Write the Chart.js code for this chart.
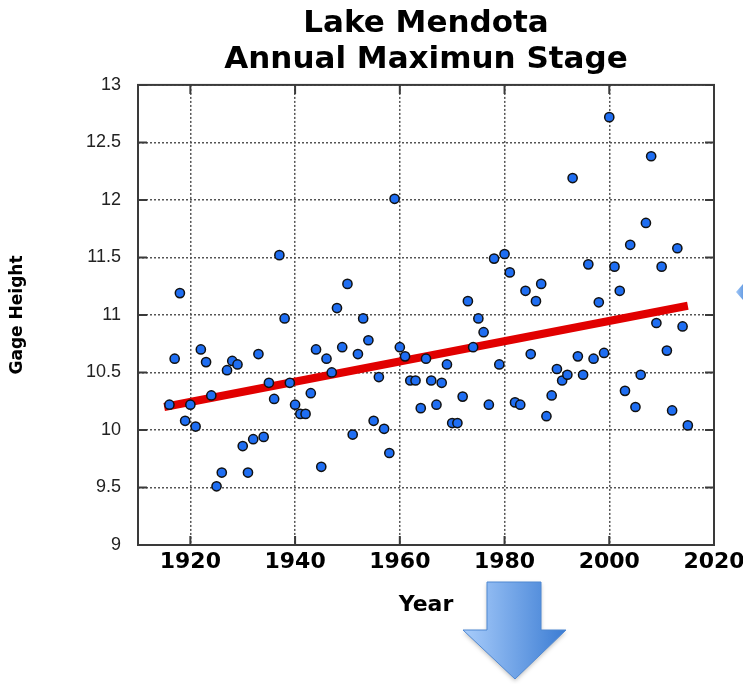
<!DOCTYPE html>
<html>
<head>
<meta charset="utf-8">
<title>Lake Mendota Annual Maximun Stage</title>
<script src="https://cdn.jsdelivr.net/npm/chart.js@4/dist/chart.umd.min.js"></script>
<style>
  html, body { margin: 0; padding: 0; background: #fff; }
  #wrap { width: 743px; height: 684px; }
</style>
</head>
<body>
<div id="wrap"><canvas id="stageChart" width="743" height="684"></canvas></div>
<script>
// data
const years = [
  1916, 1917, 1918, 1919, 1920, 1921, 1922, 1923, 1924, 1925,
  1926, 1927, 1928, 1929, 1930, 1931, 1932, 1933, 1934, 1935,
  1936, 1937, 1938, 1939, 1940, 1941, 1942, 1943, 1944, 1945,
  1946, 1947, 1948, 1949, 1950, 1951, 1952, 1953, 1954, 1955,
  1956, 1957, 1958, 1959, 1960, 1961, 1962, 1963, 1964, 1965,
  1966, 1967, 1968, 1969, 1970, 1971, 1972, 1973, 1974, 1975,
  1976, 1977, 1978, 1979, 1980, 1981, 1982, 1983, 1984, 1985,
  1986, 1987, 1988, 1989, 1990, 1991, 1992, 1993, 1994, 1995,
  1996, 1997, 1998, 1999, 2000, 2001, 2002, 2003, 2004, 2005,
  2006, 2007, 2008, 2009, 2010, 2011, 2012, 2013, 2014, 2015
];
const gageHeight = [
  10.22, 10.62, 11.19, 10.08, 10.22, 10.03, 10.70, 10.59, 10.30, 9.51,
  9.63, 10.52, 10.60, 10.57, 9.86, 9.63, 9.92, 10.66, 9.94, 10.41,
  10.27, 11.52, 10.97, 10.41, 10.22, 10.14, 10.14, 10.32, 10.70, 9.68,
  10.62, 10.50, 11.06, 10.72, 11.27, 9.96, 10.66, 10.97, 10.78, 10.08,
  10.46, 10.01, 9.80, 12.01, 10.72, 10.64, 10.43, 10.43, 10.19, 10.62,
  10.43, 10.22, 10.41, 10.57, 10.06, 10.06, 10.29, 11.12, 10.72, 10.97,
  10.85, 10.22, 11.49, 10.57, 11.53, 11.37, 10.24, 10.22, 11.21, 10.66,
  11.12, 11.27, 10.12, 10.30, 10.53, 10.43, 10.48, 12.19, 10.64, 10.48,
  11.44, 10.62, 11.11, 10.67, 12.72, 11.42, 11.21, 10.34, 11.61, 10.20,
  10.48, 11.80, 12.38, 10.93, 11.42, 10.69, 10.17, 11.58, 10.90, 10.04
];
// trend line end points
const trendYears = [1915, 2015];
const trendValues = [10.20, 11.08];

const xTicks = [1920, 1940, 1960, 1980, 2000, 2020];
const yTicks = [9, 9.5, 10, 10.5, 11, 11.5, 12, 12.5, 13];

const points = years.map((yr, i) => ({ x: yr, y: gageHeight[i] }));
const trend = trendYears.map((yr, i) => ({ x: yr, y: trendValues[i] }));

// frame on all sides + short inward tick marks
const framePlugin = {
  id: 'frame',
  afterDatasetsDraw(chart) {
    const { ctx, chartArea: a, scales } = chart;
    ctx.save();
    ctx.strokeStyle = '#3a3a3a';
    ctx.lineWidth = 2;
    ctx.strokeRect(a.left, a.top, a.right - a.left, a.bottom - a.top);
    ctx.beginPath();
    xTicks.forEach(v => {
      const px = scales.x.getPixelForValue(v);
      ctx.moveTo(px, a.top); ctx.lineTo(px, a.top + 9);
      ctx.moveTo(px, a.bottom); ctx.lineTo(px, a.bottom - 9);
    });
    yTicks.forEach(v => {
      const py = scales.y.getPixelForValue(v);
      ctx.moveTo(a.left, py); ctx.lineTo(a.left + 9, py);
      ctx.moveTo(a.right, py); ctx.lineTo(a.right - 9, py);
    });
    ctx.stroke();
    ctx.restore();
  },
  afterDraw(chart) {
    const ctx = chart.ctx;
    ctx.save();
    // the blue down arrow under the axis
    let g = ctx.createLinearGradient(463, 0, 566, 0);
    g.addColorStop(0, '#a9cdfb');
    g.addColorStop(1, '#3b7cd3');
    ctx.shadowColor = 'rgba(0,0,0,0.25)';
    ctx.shadowBlur = 4;
    ctx.shadowOffsetY = 2;
    ctx.fillStyle = g;
    ctx.strokeStyle = '#4f88d2';
    ctx.lineWidth = 1;
    ctx.beginPath();
    ctx.moveTo(487, 582);
    ctx.lineTo(541, 582);
    ctx.lineTo(541, 630);
    ctx.lineTo(566, 630);
    ctx.lineTo(515, 679);
    ctx.lineTo(463, 630);
    ctx.lineTo(487, 630);
    ctx.closePath();
    ctx.fill();
    ctx.shadowColor = 'transparent';
    ctx.stroke();
    // tip of an arrow cut off at the right edge
    g = ctx.createLinearGradient(736, 0, 743, 0);
    g.addColorStop(0, '#9fc6f7');
    g.addColorStop(1, '#6a9fe4');
    ctx.fillStyle = g;
    ctx.beginPath();
    ctx.moveTo(736, 292);
    ctx.lineTo(743, 284);
    ctx.lineTo(743, 300);
    ctx.closePath();
    ctx.fill();
    ctx.restore();
  }
};

const ctx = document.getElementById('stageChart').getContext('2d');
const stageChart = new Chart(ctx, {
  type: 'scatter',
  data: {
    datasets: [{
      label: 'Annual maximum',
      data: points,
      backgroundColor: '#1f6ef2',
      borderColor: '#111',
      borderWidth: 1.5,
      pointRadius: 4.6
    }, {
      type: 'line',
      label: 'Trend',
      data: trend,
      borderColor: '#e10000',
      borderWidth: 8,
      pointRadius: 0,
      fill: false
    }]
  },
  options: {
    responsive: false,
    animation: false,
    layout: { padding: { top: 0, right: 29, bottom: 0, left: 0 } },
    plugins: {
      legend: { display: false },
      tooltip: { enabled: false },
      title: {
        display: true,
        fullSize: false,
        text: ['Lake Mendota', 'Annual Maximun Stage'],
        color: '#000',
        font: { family: 'DejaVu Sans', size: 31, weight: 'bold', lineHeight: 1.16 },
        padding: { top: 6, bottom: 7 }
      }
    },
    scales: {
      x: {
        type: 'linear',
        min: 1910,
        max: 2020,
        afterBuildTicks: s => { s.ticks = xTicks.map(v => ({ value: v })); },
        afterFit: s => { s.height = 139; s.paddingLeft = 0; s.paddingRight = 0; },
        grid: {
          drawTicks: false,
          color: '#555',
          lineWidth: 1.5
        },
        border: { display: false, dash: [2, 2] },
        ticks: {
          padding: 4,
          color: '#000',
          font: { family: 'DejaVu Sans', size: 22, weight: 'bold' },
          callback: v => String(v)
        },
        title: {
          display: true,
          text: 'Year',
          color: '#000',
          font: { family: 'DejaVu Sans', size: 22, weight: 'bold' },
          padding: { top: 0, bottom: 66 }
        }
      },
      y: {
        min: 9,
        max: 13,
        afterBuildTicks: s => { s.ticks = yTicks.map(v => ({ value: v })); },
        afterFit: s => { s.width = 138; s.paddingTop = 0; s.paddingBottom = 0; },
        grid: {
          drawTicks: false,
          color: '#555',
          lineWidth: 1.5
        },
        border: { display: false, dash: [2, 2] },
        ticks: {
          padding: 17,
          color: '#222',
          font: { family: 'Liberation Sans', size: 18 },
          callback: v => String(v)
        },
        title: {
          display: true,
          text: 'Gage Height',
          color: '#000',
          font: { family: 'DejaVu Sans', size: 17, weight: 'bold' },
          padding: { top: 7, bottom: 0 }
        }
      }
    }
  },
  plugins: [framePlugin]
});
</script>
</body>
</html>
